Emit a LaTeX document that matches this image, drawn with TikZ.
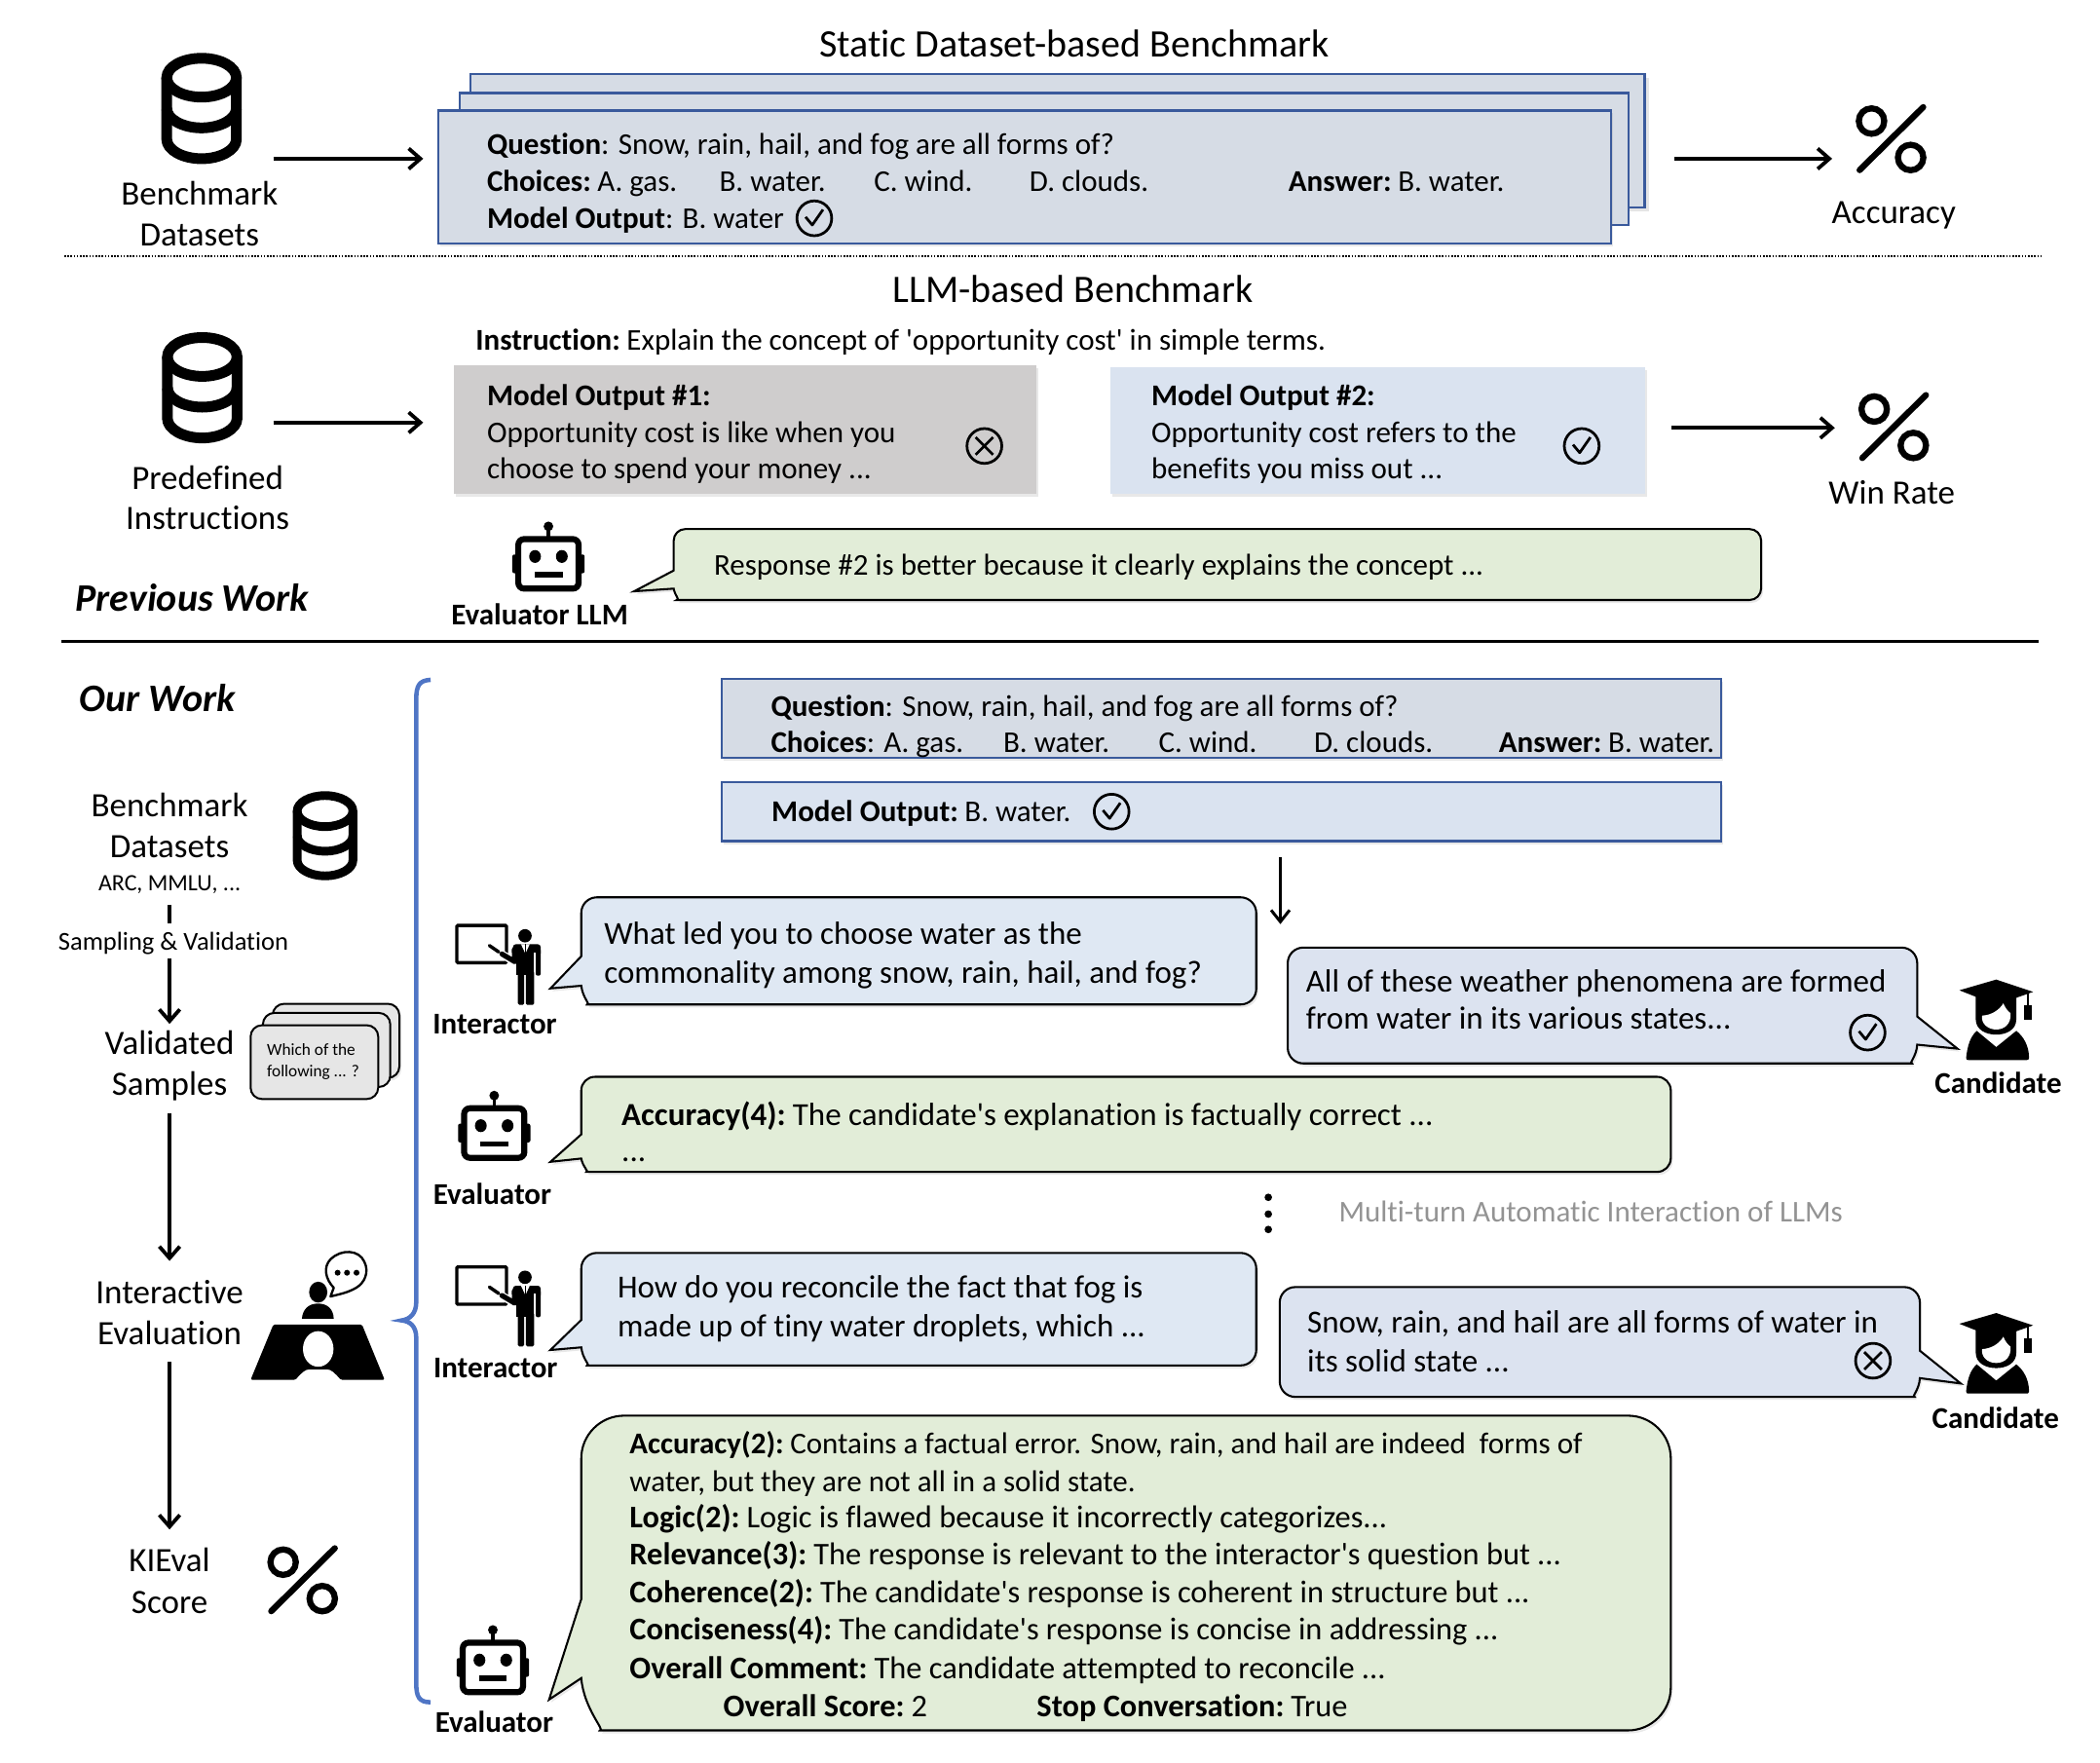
\documentclass[tikz,border=0pt]{standalone}
\usepackage{fontspec}
\setmainfont{Carlito}[Ligatures=NoCommon]
\usetikzlibrary{arrows.meta,shadows}
\definecolor{boxA}{HTML}{D6DCE5}
\definecolor{boxB}{HTML}{DAE3F0}
\definecolor{edgeA}{HTML}{3A5A9C}
\definecolor{bubA}{HTML}{DFE8F3}
\definecolor{bubC}{HTML}{DCE3F0}
\definecolor{bubG}{HTML}{E2EDD8}
\definecolor{grayBox}{HTML}{CFCDCD}
\definecolor{braceC}{HTML}{4F75C5}
\definecolor{cardC}{HTML}{E6E6E6}
\tikzset{
 lw/.style={line width=#1*1.375pt},
 tx/.style={inner sep=0pt,anchor=mid west,yshift=-8pt,font=\fontsize{31}{37}\selectfont},
 tq/.style={tx,font=\fontsize{33}{39}\selectfont},
 te/.style={tx,font=\fontsize{32.4}{39}\selectfont},
 tc/.style={inner sep=0pt,anchor=mid,yshift=-9pt,font=\fontsize{35}{42}\selectfont},
 tt/.style={inner sep=0pt,anchor=mid,yshift=-10pt,font=\fontsize{40}{48}\selectfont},
 tb/.style={inner sep=0pt,anchor=mid,yshift=-8pt,font=\fontsize{31}{37}\selectfont\bfseries},
 ti/.style={inner sep=0pt,anchor=mid,yshift=-10pt,font=\fontsize{40}{48}\selectfont\bfseries\itshape},
 arr/.style={lw=2.9,-{Straight Barb[length=12pt,width=21pt,line width=3.8pt]}},
 shad/.style={drop shadow={shadow xshift=2pt,shadow yshift=-3pt,opacity=.18}},
 bub/.style={draw=black,lw=1.5,shad},
 panel/.style={draw=edgeA,lw=1.6},
 card/.style={draw=black,lw=1.45,fill=cardC,rounded corners=11.7pt},
 pics/dbicon/.style={code={
   \draw[lw=#1,black] (0,-23) circle[x radius=26,y radius=14.5];
   \draw[lw=#1,black,line join=round] (-26,-23) -- (-26,23) .. controls (-26,31) and (-14,37.5) .. (0,37.5) .. controls (14,37.5) and (26,31) .. (26,23) -- (26,-23);
   \draw[lw=#1,black] (-26,0) .. controls (-26,8) and (-14,14.5) .. (0,14.5) .. controls (14,14.5) and (26,8) .. (26,0);
 }},
 pics/pcticon/.style={code={
   \draw[lw=4.6,black] (-14.6,-13.6) circle[radius=9.5];
   \draw[lw=4.6,black] (14.6,13.6) circle[radius=9.5];
   \draw[lw=4.6,black,line cap=round] (-23.5,23) -- (24,-24);
 }},
 pics/okmark/.style={code={
   \draw[lw=2,black] (0,0) circle[radius=13];
   \draw[lw=2,black,line join=round] (-6.5,-1) -- (-1.5,5) -- (6.5,-6.5);
 }},
 pics/nomark/.style={code={
   \draw[lw=2,black] (0,0) circle[radius=13];
   \draw[lw=2,black] (-6.5,-6.5) -- (6.5,6.5) (-6.5,6.5) -- (6.5,-6.5);
 }},
 pics/roboticon/.style={code={
   \fill[black,rounded corners=2pt] (-27,-7) rectangle (27,7);
   \draw[lw=4.5,black,fill=white,rounded corners=6pt] (-22.5,-18.5) rectangle (22.5,18.5);
   \draw[lw=2.6,black] (0,-20) -- (0,-27);
   \fill[black] (0,-28) circle[radius=3.6];
   \fill[black] (-10,-5.5) circle[x radius=4.4,y radius=4.8];
   \fill[black] (10,-5.5) circle[x radius=4.4,y radius=4.8];
   \fill[black] (-10.5,6) rectangle (10.5,10);
 }},
 pics/teachicon/.style={code={
   \draw[lw=2.4,black,rounded corners=1pt] (-50.9,-29) rectangle (-13.8,-1.2);
   \draw[lw=6,white] (-20,-9) -- (-7.7,-2);
   \draw[lw=2.5,black,line cap=round] (-26.6,-14) -- (-19.6,-9.2);
   \draw[lw=3.8,black,line cap=round,line join=round] (-17.2,-7.7) -- (-7.7,-2) -- (-8,-11);
   \fill[black] (0,-21.3) circle[radius=5];
   \fill[black,rounded corners=3pt] (-9,-15) rectangle (11.7,-6);
   \fill[black] (-6.5,-12) rectangle (6.8,8);
   \fill[black,rounded corners=2pt] (8,-12) rectangle (11.7,8.5);
   \fill[white] (6.8,-9) rectangle (8,9);
   \fill[black,rounded corners=1.5pt] (-5.3,5) rectangle (-0.6,30.3);
   \fill[black,rounded corners=1.5pt] (0.6,5) rectangle (6.8,30.3);
   \fill[white] (-3,-15) -- (3.5,-15) -- (0.3,-8) -- cycle;
   \draw[lw=1.3,black] (0.3,-15) -- (0.3,-8);
 }},
 pics/gradicon/.style={code={
   \fill[black] (-0.5,-31.6) -- (27,-22.4) -- (-0.5,-12.7) -- (-28,-23.6) -- cycle;
   \fill[black] (-15.8,-19) -- (-15.8,-2) .. controls (-15.8,6) and (-8,9.5) .. (-0.5,9.5) .. controls (7,9.5) and (14.5,6) .. (14.5,-2) -- (14.5,-19) -- cycle;
   \fill[white] (-11,-4.7) .. controls (-4,-5) and (2,-9) .. (4.8,-13.9) .. controls (6,-11) and (8,-8) .. (10.1,-6.6) .. controls (11,1) and (6,5.7) .. (-0.5,5.7) .. controls (-7,5.7) and (-12,1) .. (-11,-4.7) -- cycle;
   \fill[black] (-23,27) .. controls (-22,18) and (-20,11) .. (-15,6.7) -- (-0.5,18.8) -- (14.5,6.7) .. controls (20,11) and (24,18) .. (24,27) .. controls (24,28.5) and (23,28.5) .. (22,28.5) -- (-21,28.5) .. controls (-22,28.5) and (-23,28.5) .. (-23,27) -- cycle;
   \draw[lw=1.2,black] (23.4,-21.2) -- (23.4,-11.5);
   \fill[black] (20.6,-12.7) rectangle (26,-1.8);
 }}
}
\newcommand\tl[4]{\node[tx] (#1) at (#2,#3) {#4};}
\newcommand\tq[4]{\node[tq] (#1) at (#2,#3) {#4};}
\newcommand\te[4]{\node[te] (#1) at (#2,#3) {#4};}
\newcommand\bl[1]{\textbf{#1}\kern-2.7pt\relax}
\begin{document}
\begin{tikzpicture}[x=1.375pt,y=-1.375pt,line cap=butt]
\useasboundingbox (0,0) rectangle (1568,1316);

%%% Static benchmark
\node[tt] (t1) at (802,33.5) {Static Dataset-based Benchmark};
\pic at (150.5,81) {dbicon=8};
\node[tc] (bd1) at (149,145) {Benchmark};
\node[tc] (bd2) at (149,175) {Datasets};
\coordinate (a1s) at (204,118.5); \coordinate (a1e) at (316,118.5);
\draw[arr] (a1s) -- (a1e);
\fill[black,opacity=.1] (355,58) rectangle (1231,158);
\draw[panel,fill=boxA] (351.5,55) rectangle (1228,155);
\draw[panel,fill=boxA] (343,69.5) rectangle (1216,168);
\draw[panel,fill=boxA,shad] (327,82.5) rectangle (1203,182);
\tl{q1}{363.5}{108}{\textbf{Question}: Snow, rain, hail, and fog are all forms of?}
\tl{c1}{363.5}{135}{\bl{Choices:} A. gas.}
\tl{c2}{537}{135}{B. water.}
\tl{c3}{652.5}{135}{C. wind.}
\tl{c4}{768.5}{135}{D. clouds.}
\tl{a1}{962}{135}{\bl{Answer:} B. water.}
\tl{m1}{363.5}{163}{\textbf{Model Output}: B. water}
\pic at (608,163) {okmark};
\coordinate (a2s) at (1250,118.5); \coordinate (a2e) at (1368,118.5);
\draw[arr] (a2s) -- (a2e);
\pic at (1412,104) {pcticon};
\node[tc] (acc) at (1414,158.5) {Accuracy};
\draw[lw=1.2,dash pattern=on 1.6pt off 1.6pt] (48,191.5) -- (1524,191.5);

%%% LLM benchmark
\node[tt] (t2) at (801,216.5) {LLM-based Benchmark};
\pic at (151,289.5) {dbicon=8};
\node[tc] (pi1) at (155,357) {Predefined};
\node[tc] (pi2) at (155,387) {Instructions};
\coordinate (a3s) at (204,315.5); \coordinate (a3e) at (316,315.5);
\draw[arr] (a3s) -- (a3e);
\tl{ins}{355}{254}{\bl{Instruction:} Explain the concept of \textquotesingle opportunity cost\textquotesingle{} in simple terms.}
\fill[grayBox,shad] (339,273) rectangle (774,369);
\tl{o11}{363.5}{295}{\textbf{Model Output \#1:}}
\tl{o12}{363.5}{323}{Opportunity cost is like when you}
\tl{o13}{363.5}{350}{choose to spend your money ...}
\pic at (735,333) {nomark};
\fill[boxB,shad] (829,274) rectangle (1228,369);
\tl{o21}{859.5}{295}{\textbf{Model Output \#2:}}
\tl{o22}{859.5}{323}{Opportunity cost refers to the}
\tl{o23}{859.5}{350}{benefits you miss out ...}
\pic at (1181,333) {okmark};
\coordinate (a4s) at (1248,319.5); \coordinate (a4e) at (1370,319.5);
\draw[arr] (a4s) -- (a4e);
\pic at (1414,319) {pcticon};
\node[tc] (wr) at (1412.5,368) {Win Rate};
\pic at (409.5,421) {roboticon};
\node[tb] (el) at (403,459) {Evaluator LLM};
\draw[bub,fill=bubG] (503,426) [rounded corners=12pt] -- (503,395) -- (1315,395) -- (1315,448) -- (514,448) [sharp corners] .. controls (508,448) and (504,445) .. (503,439.5) -- (473.5,441.5) -- cycle;
\tl{r2}{533}{422}{Response \#2 is better because it clearly explains the concept ...}
\node[ti] (pw) at (143.5,447) {Previous Work};
\draw[lw=2.4] (46,479) -- (1522,479);

%%% Our work left column
\node[ti] (ow) at (117.5,522) {Our Work};
\node[tc] (l1) at (126.6,601.5) {Benchmark};
\node[tc] (l2) at (126.6,632) {Datasets};
\node[inner sep=0pt,anchor=mid,yshift=-6pt,font=\fontsize{24}{29}\selectfont] (l3) at (126.6,659) {ARC, MMLU, ...};
\pic[scale=.8] at (242.7,624) {dbicon=6.5};
\coordinate (s0) at (126.6,675.5);
\node[inner sep=0pt,anchor=mid,yshift=-6pt,font=\fontsize{26.5}{31}\selectfont] (sv) at (129.5,703.6) {Sampling \& Validation};
\coordinate (s0e) at (126.6,689.5);
\draw[lw=2.9] (s0) -- (s0e);
\coordinate (s1) at (126.6,715.7); \coordinate (s2) at (126.6,764.5);
\draw[arr] (s1) -- (s2);
\node[tc] (v1) at (126.6,779) {Validated};
\node[tc] (v2) at (126.6,809.5) {Samples};
\draw[card,shad] (203.6,749.5) rectangle (298.2,804.8);
\draw[card] (196.3,756.3) rectangle (291.4,811.6);
\draw[card] (187.1,765.5) rectangle (282.4,820.6);
\node[inner sep=0pt,anchor=mid west,yshift=-2pt,font=\fontsize{17.3}{21}\selectfont] (w1) at (199.3,784.7) {Which of the};
\node[inner sep=0pt,anchor=mid west,yshift=-2pt,font=\fontsize{17.3}{21}\selectfont] (w2) at (199.3,800.5) {following ... ?};
\coordinate (s3) at (126.6,831); \coordinate (s4) at (126.6,941.5);
\draw[arr] (s3) -- (s4);
\node[tc] (i1) at (126.6,965) {Interactive};
\node[tc] (i2) at (126.6,995.5) {Evaluation};
% interview icon
\fill[black,rounded corners=1.5pt] (204.1,989) -- (270.3,989) -- (287.2,1030.3) -- (254.5,1030.3) .. controls (250,1025) and (247,1022.5) .. (243.6,1022.5) -- (231.5,1022.5) .. controls (228,1022.5) and (225,1025) .. (220.6,1030.3) -- (187.1,1030.3) -- cycle;
\fill[white] (237.6,1007.2) circle[x radius=11.4,y radius=13.3];
\fill[black] (237.6,964.8) circle[x radius=6.8,y radius=7.8];
\fill[black] (225.4,984.7) .. controls (226,977) and (231,973.3) .. (237.4,973.3) .. controls (244,973.3) and (249,977) .. (249.2,984.7) -- cycle;
\draw[lw=1.7,fill=white,line join=round] (249.2,961.5) .. controls (243,955) and (241,946) .. (247,940) .. controls (255,932.5) and (268,933) .. (272,942) .. controls (276,950) and (272,958) .. (266,961.5) .. controls (260,965) and (255,966) .. (246.8,968) -- cycle;
\fill[black] (252.1,950.3) circle[radius=2.2] (259.1,950.3) circle[radius=2.2] (266.2,950.3) circle[radius=2.2];
\coordinate (s5) at (126.6,1017); \coordinate (s6) at (126.6,1142);
\draw[arr] (s5) -- (s6);
\node[tc] (k1) at (126.6,1165.5) {KIEval};
\node[tc] (k2) at (126.6,1196.5) {Score};
\pic at (226,1180) {pcticon};

%%% brace
\draw[braceC,lw=3.3] (321.5,507.6) .. controls (313,508) and (310.8,512) .. (310.8,522) -- (310.8,972) .. controls (310.8,981) and (306,985) .. (299.9,985.9) .. controls (306,986.5) and (310.8,990) .. (310.8,999) -- (310.8,1257) .. controls (310.8,1267) and (313,1271) .. (321.5,1271);

%%% Question boxes
\draw[panel,fill=boxA,shad] (539,507) rectangle (1285,566);
\tl{bq}{575.5}{527}{\textbf{Question}: Snow, rain, hail, and fog are all forms of?}
\tl{bc1}{575.5}{554}{\textbf{Choices}: A. gas.}
\tl{bc2}{749}{554}{B. water.}
\tl{bc3}{865}{554}{C. wind.}
\tl{bc4}{981}{554}{D. clouds.}
\tl{ba}{1119}{554}{\bl{Answer:} B. water.}
\draw[panel,fill=boxB,shad] (539,584) rectangle (1285,628);
\tl{bm}{576}{606}{\bl{Model Output:} B. water.}
\pic at (830,606) {okmark};
\coordinate (d1) at (956,640); \coordinate (d2) at (956,690);
\draw[lw=2.3,-{Straight Barb[length=12pt,width=19pt,line width=3pt]}] (d1) -- (d2);

%%% first turn
\pic at (392,720) {teachicon};
\node[tb] (lbi1) at (369.5,764.5) {Interactor};
\draw[bub,fill=bubA] (434,714) [rounded corners=16pt] -- (434,670) -- (938,670) -- (938,750) -- (450,750) [sharp corners] .. controls (441,750) and (435,745) .. (434,736) -- (411,738) -- cycle;
\tq{t11}{451}{697.5}{What led you to choose water as the}
\tq{t12}{451}{726.5}{commonality among snow, rain, hail, and fog?}
\draw[bub,fill=bubC] (1431.5,759) [rounded corners=16pt] -- (1431.5,707.5) -- (961.5,707.5) -- (961.5,794) -- (1416,794) [sharp corners] .. controls (1425,794) and (1431,789) .. (1431.5,780) -- (1461.5,783) -- cycle;
\tq{t21}{975}{733}{All of these weather phenomena are formed}
\tq{t22}{975}{761}{from water in its various states...}
\pic at (1394.5,771) {okmark};
\pic at (1491,763) {gradicon};
\node[tb] (lbc1) at (1492,809) {Candidate};
\pic at (369,846) {roboticon};
\node[tb] (lbe1) at (367.6,892) {Evaluator};
\draw[bub,fill=bubG] (434,847) [rounded corners=14pt] -- (434,804) -- (1247.5,804) -- (1247.5,875) -- (448,875) [sharp corners] .. controls (440,875) and (435,871) .. (434,865) -- (411,867.5) -- cycle;
\tq{t31}{464}{832.5}{\bl{Accuracy(4):} The candidate\textquotesingle s explanation is factually correct ...}
\tq{t32}{464}{860}{...}
\fill[black] (947,894) circle[radius=2.8] (947,906.5) circle[radius=2.8] (947,918) circle[radius=2.8];
\node[tx,text=gray!85!white] (mt) at (999.5,905) {Multi-turn Automatic Interaction of LLMs};

%%% second turn
\pic at (392,975) {teachicon};
\node[tb] (lbi2) at (370,1021.5) {Interactor};
\draw[bub,fill=bubA] (434,985.5) [rounded corners=16pt] -- (434,935.5) -- (938,935.5) -- (938,1019.5) -- (450,1019.5) [sharp corners] .. controls (441,1019.5) and (435,1015) .. (434,1006) -- (411,1008) -- cycle;
\tq{t41}{461}{961.5}{How do you reconcile the fact that fog is}
\tq{t42}{461}{990.5}{made up of tiny water droplets, which ...}
\draw[bub,fill=bubC] (1433.5,1008.5) [rounded corners=16pt] -- (1433.5,961) -- (955.5,961) -- (955.5,1043) -- (1418,1043) [sharp corners] .. controls (1427,1043) and (1433,1038) .. (1433.5,1029) -- (1464,1033) -- cycle;
\tq{t51}{976}{987.5}{Snow, rain, and hail are all forms of water in}
\tq{t52}{976}{1016.5}{its solid state ...}
\pic at (1398.5,1016) {nomark};
\pic at (1491,1012) {gradicon};
\node[tb] (lbc2) at (1490,1059) {Candidate};
\pic at (368,1245) {roboticon};
\node[tb] (lbe2) at (369,1286) {Evaluator};
\draw[bub,fill=bubG] (434,1194) [rounded corners=44pt] -- (434,1057) -- (1247.5,1057) -- (1247.5,1292) -- (480,1292) [sharp corners] .. controls (452,1292) and (436,1276) .. (434,1253) -- (410,1269) -- cycle;
\tl{e1}{470}{1078}{\bl{Accuracy(2):} Contains a factual error. Snow, rain, and hail are indeed\ \ forms of}
\tl{e2}{470}{1106}{water, but they are not all in a solid state.}
\te{e3}{470}{1133}{\bl{Logic(2):} Logic is flawed because it incorrectly categorizes...}
\te{e4}{470}{1161}{\bl{Relevance(3):} The response is relevant to the interactor\textquotesingle s question but ...}
\te{e5}{470}{1189}{\bl{Coherence(2):} The candidate\textquotesingle s response is coherent in structure but ...}
\te{e6}{470}{1217}{\bl{Conciseness(4):} The candidate\textquotesingle s response is concise in addressing ...}
\te{e7}{470}{1246}{\bl{Overall Comment:} The candidate attempted to reconcile ...}
\te{e8}{540}{1274}{\bl{Overall Score:} 2}
\te{e9}{774}{1274}{\bl{Stop Conversation:} True}
\end{tikzpicture}
\end{document}
